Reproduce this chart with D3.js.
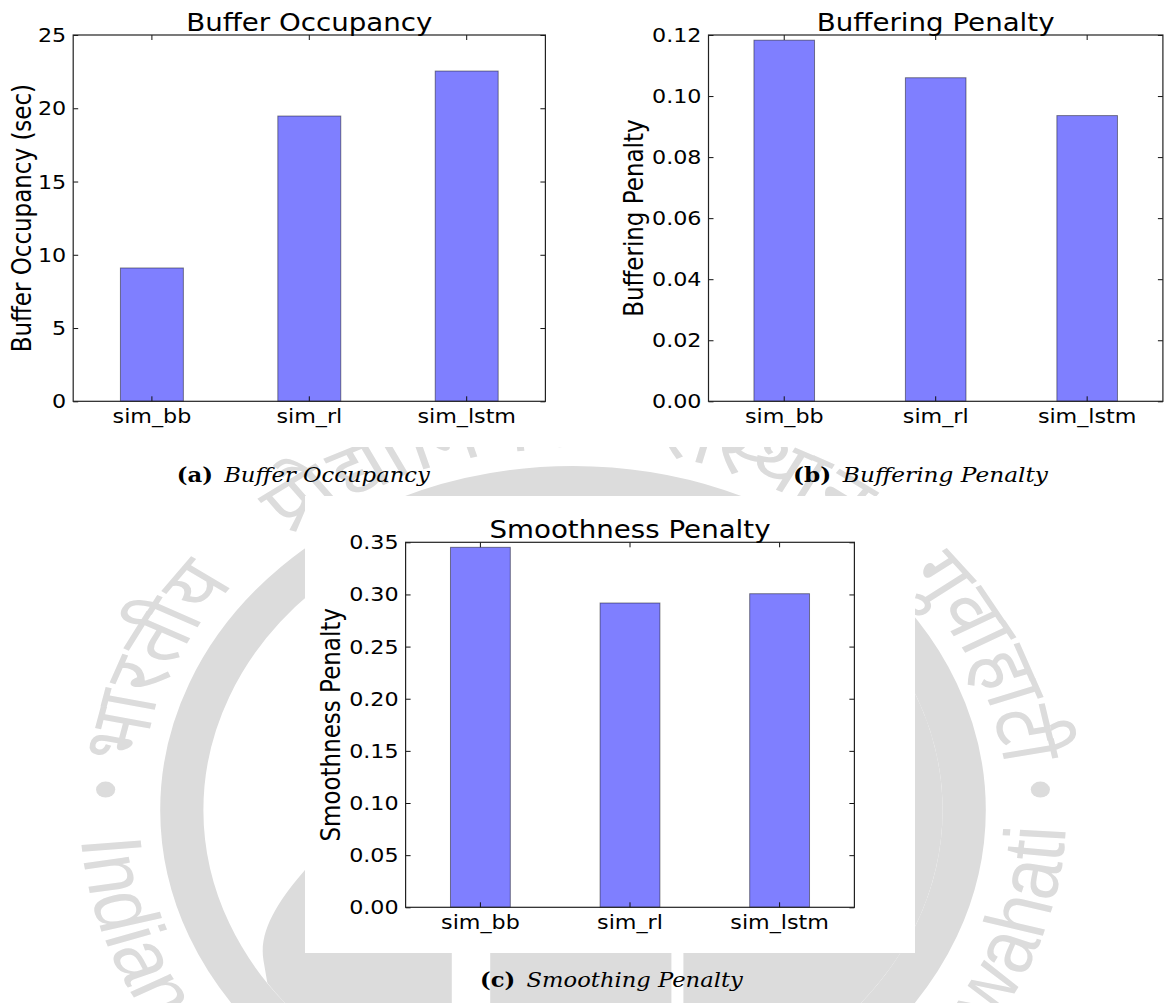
<!DOCTYPE html>
<html>
<head>
<meta charset="utf-8">
<script src="https://cdn.jsdelivr.net/npm/d3@7"></script>
<style>
  html, body { margin: 0; padding: 0; background: #fff; }
  svg { display: block; }
</style>
</head>
<body>
<svg id="fig" width="1164" height="1003"></svg>
<script>
// ---- data ----
const categories = ["sim_bb", "sim_rl", "sim_lstm"];
const bufferOccupancy = [9.10, 19.47, 22.54];
const bufferingPenalty = [0.1183, 0.1060, 0.0936];
const smoothnessPenalty = [0.3452, 0.2918, 0.3007];
const occupancyTicks = [0, 5, 10, 15, 20, 25];
const bufferingTicks = [0, 0.02, 0.04, 0.06, 0.08, 0.10, 0.12];
const smoothnessTicks = [0, 0.05, 0.10, 0.15, 0.20, 0.25, 0.30, 0.35];
const panelTitles = ["Buffer Occupancy", "Buffering Penalty", "Smoothness Penalty"];
const axisLabels = ["Buffer Occupancy (sec)", "Buffering Penalty", "Smoothness Penalty"];
const captionTags = ["(a)", "(b)", "(c)"];
const captionTexts = ["Buffer Occupancy", "Buffering Penalty", "Smoothing Penalty"];
const sealTopText = "भारतीय प्रौद्योगिकी संस्थान गुवाहाटी";
const sealBottomText = "Indian Institute of Technology Guwahati";

// ---- layout ----
const W = 1164, H = 1003;
const svg = d3.select("#fig");
const SANS = "'DejaVu Sans', sans-serif";
const SERIF = "'DejaVu Serif', serif";
const WM = "#dcdcdc";
const STRETCH = 1.2;   // page content is horizontally widened

// ---- background seal (watermark) ----
const seal = svg.append("g").attr("transform", `translate(573,810) scale(${STRETCH},1)`);
const defs = svg.append("defs");
defs.append("clipPath").attr("id", "sealInner").append("circle").attr("r", 308);

seal.append("circle").attr("r", 326).attr("fill", "none")
  .attr("stroke", WM).attr("stroke-width", 36);

const inner = seal.append("g").attr("clip-path", "url(#sealInner)").attr("fill", WM);
inner.append("path").attr("d", "M -101 220 L -101 -20 C -140 0 -205 30 -222 58 C -245 90 -262 120 -258 150 L -248 220 Z");
inner.append("path").attr("d", "M -69 220 L -69 100 L 82 100 L 82 220 Z");
inner.append("path").attr("d", "M 92 220 L 92 40 C 150 -80 240 -140 330 -140 L 330 220 Z");

const deg = Math.PI / 180;
[183, 357].forEach(a => {
  seal.append("circle").attr("cx", 390 * Math.cos(a * deg)).attr("cy", 390 * Math.sin(a * deg))
    .attr("r", 8).attr("fill", WM);
});

function arcPath(r, a0, a1, ccw) {
  const p = d3.path();
  p.moveTo(r * Math.cos(a0 * deg), r * Math.sin(a0 * deg));
  p.arc(0, 0, r, a0 * deg, a1 * deg, ccw);
  return p.toString();
}
defs.append("path").attr("id", "sealBottomArc").attr("d", arcPath(411, 176, 2.5, true));
defs.append("path").attr("id", "sealTopArc").attr("d", arcPath(362, 187, 353, false));

// lower legend: one run along the bottom arc
seal.append("text").attr("font-family", "'Liberation Sans', sans-serif").attr("font-size", 72)
  .attr("fill", WM)
  .append("textPath").attr("href", "#sealBottomArc")
  .attr("textLength", 411 * 173.5 * deg).attr("lengthAdjust", "spacing")
  .text(sealBottomText);

// upper legend: words spread evenly along the top arc
const topWords = sealTopText.split(" ");
const topLen = 362 * 166 * deg;
const topTexts = topWords.map(w => seal.append("text").attr("font-size", 72).attr("fill", WM)
  .append("textPath").attr("href", "#sealTopArc").text(w));
const widths = topTexts.map(t => t.node().getComputedTextLength());
const gap = (topLen - d3.sum(widths)) / (topWords.length - 1);
let offset = 0;
topTexts.forEach((t, k) => { t.attr("startOffset", offset); offset += widths[k] + gap; });

// white backgrounds of the three figure images
svg.append("rect").attr("x", 0).attr("y", 0).attr("width", W).attr("height", 447).attr("fill", "#fff");
svg.append("rect").attr("x", 305).attr("y", 496).attr("width", 610).attr("height", 457).attr("fill", "#fff");

// ---- bar panels ----
const panels = [
  { values: bufferOccupancy, ticks: occupancyTicks, fmt: d3.format("d"),
    left: 73.2, right: 545.4, top: 35, bottom: 401.3, ylabelX: 30.5 },
  { values: bufferingPenalty, ticks: bufferingTicks, fmt: d3.format(".2f"),
    left: 708.5, right: 1162.9, top: 35, bottom: 401.3, ylabelX: 643.3 },
  { values: smoothnessPenalty, ticks: smoothnessTicks, fmt: d3.format(".2f"),
    left: 405.6, right: 854.4, top: 542.3, bottom: 907.3, ylabelX: 339.5 }
];

const TICK_FS = 19.5, TICK_SX = 1.14;
const TITLE_FS = 24.5, TITLE_SX = 1.13;
const LABEL_FS = 23, LABEL_SX = 1.15;

panels.forEach((p, i) => {
  const x = d3.scaleBand().domain(categories).range([p.left, p.right])
    .paddingInner(0.6).paddingOuter(0.3);
  const y = d3.scaleLinear().domain([0, d3.max(p.ticks)]).range([p.bottom, p.top]);
  const g = svg.append("g");

  // bars
  g.selectAll("rect.bar").data(p.values).join("rect")
    .attr("class", "bar")
    .attr("x", (d, j) => x(categories[j]))
    .attr("width", x.bandwidth())
    .attr("y", d => y(d))
    .attr("height", d => y(0) - y(d))
    .attr("fill", "#7f7fff")
    .attr("stroke", "rgba(0,0,0,0.45)")
    .attr("stroke-width", 1);

  // axes: inward ticks on all four sides
  const left = g.append("g").attr("transform", `translate(${p.left},0)`)
    .call(d3.axisLeft(y).tickValues(p.ticks).tickFormat(p.fmt).tickSizeInner(-5).tickSizeOuter(0).tickPadding(7));
  const right = g.append("g").attr("transform", `translate(${p.right},0)`)
    .call(d3.axisRight(y).tickValues(p.ticks).tickFormat("").tickSizeInner(-5).tickSizeOuter(0));
  const bottom = g.append("g").attr("transform", `translate(0,${p.bottom})`)
    .call(d3.axisBottom(x).tickSizeInner(-5).tickSizeOuter(0));
  const top = g.append("g").attr("transform", `translate(0,${p.top})`)
    .call(d3.axisTop(x).tickFormat("").tickSizeInner(-5).tickSizeOuter(0));

  [left, right, bottom, top].forEach(a => {
    a.select(".domain").remove();
    a.selectAll(".tick line").attr("stroke", "#111").attr("stroke-width", 1);
  });

  left.selectAll(".tick text")
    .attr("x", null).attr("dy", null)
    .attr("transform", `translate(-7,0) scale(${TICK_SX},1)`)
    .attr("dominant-baseline", "central")
    .attr("font-family", SANS).attr("font-size", TICK_FS).attr("fill", "#000");

  bottom.selectAll(".tick text")
    .attr("y", null).attr("dy", null)
    .attr("transform", `translate(0,22) scale(${TICK_SX},1)`)
    .attr("font-family", SANS).attr("font-size", TICK_FS).attr("fill", "#000");

  // frame
  g.append("rect")
    .attr("x", p.left).attr("y", p.top)
    .attr("width", p.right - p.left).attr("height", p.bottom - p.top)
    .attr("fill", "none").attr("stroke", "#222").attr("stroke-width", 1.2);

  // title
  g.append("text")
    .attr("transform", `translate(${(p.left + p.right) / 2},${p.top - 4.5}) scale(${TITLE_SX},1)`)
    .attr("text-anchor", "middle")
    .attr("font-family", SANS).attr("font-size", TITLE_FS).attr("fill", "#000")
    .text(panelTitles[i]);

  // y-axis label
  g.append("text")
    .attr("transform", `translate(${p.ylabelX},${(p.top + p.bottom) / 2}) scale(${LABEL_SX},1) rotate(-90)`)
    .attr("text-anchor", "middle")
    .attr("font-family", SANS).attr("font-size", LABEL_FS).attr("fill", "#000")
    .text(axisLabels[i]);
});

// ---- sub-figure captions ----
const captionBoxes = [
  { x0: 176.7, x1: 430, base: 481.5 },
  { x0: 793, x1: 1048, base: 481.5 },
  { x0: 480, x1: 743, base: 987 }
];
captionBoxes.forEach((c, i) => {
  const t = svg.append("text")
    .attr("font-family", SERIF).attr("font-size", 20).attr("fill", "#000");
  t.append("tspan").attr("font-weight", "bold").text(captionTags[i]);
  t.append("tspan").attr("dx", 10).attr("font-style", "italic").text(captionTexts[i]);
  const w = t.node().getComputedTextLength() + 10;
  const sx = (c.x1 - c.x0) / w;
  t.attr("transform", `translate(${c.x0},${c.base}) scale(${sx},1)`);
});
</script>
</body>
</html>
